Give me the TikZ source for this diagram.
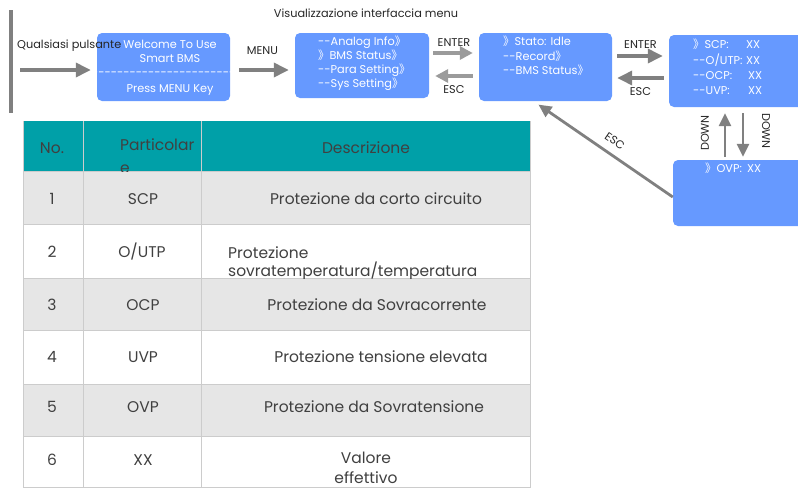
\documentclass[tikz,border=0pt]{standalone}
\usepackage{fontspec}
\setmainfont{Poppins}
\newfontfamily\cjk{Noto Sans CJK SC}
\usetikzlibrary{arrows.meta,positioning}
\definecolor{screenblue}{RGB}{102,153,255}
\definecolor{headteal}{RGB}{0,160,168}
\definecolor{arrowgray}{RGB}{128,128,128}
\definecolor{lightgray}{RGB}{155,155,155}
\definecolor{rowgray}{RGB}{230,230,230}
\definecolor{gridgray}{RGB}{204,204,204}
\definecolor{textgray}{RGB}{64,64,64}
\newcommand{\dbr}{{\cjk 》}}
\newcommand{\dd}{-{}-}
\tikzset{
  screen/.style={fill=screenblue,rounded corners=5pt,inner sep=0pt},
  screentext/.style={text=white,font=\fontsize{11.3}{14}\selectfont,align=left,inner sep=0pt},
  flow/.style={draw=arrowgray,line width=3.5pt,-{Triangle[length=15pt,width=14pt]}},
  flowlight/.style={draw=lightgray,line width=3.5pt,-{Triangle[length=13pt,width=13pt]}},
  flowthin/.style={draw=arrowgray,line width=2.8pt,-{Triangle[length=13pt,width=12pt]}},
  keylabel/.style={text=black!85,font=\fontsize{11.3}{13}\selectfont,inner sep=0pt},
  celltext/.style={text=textgray,font=\fontsize{15.5}{20}\selectfont,inner sep=0pt}
}
\begin{document}
\begin{tikzpicture}[x=1pt,y=-1pt]
  \useasboundingbox (0,0) rectangle (798,488);
  % menu flow
  \node[keylabel] (title) at (366,13) {Visualizzazione interfaccia menu};
  \fill[arrowgray] (8.5,10) rectangle (12.5,113);
  \node[screen,minimum width=133pt,minimum height=68pt] (welcome) at (163.5,67) {};
  \node[screentext,align=center,anchor=north] (welcometext) at (170,40)
    {Welcome To Use\\Smart BMS\\-{}-{}-{}-{}-{}-{}-{}-{}-{}-{}-{}-{}-{}-{}-{}-{}-{}-{}-{}-{}-{}-{}-{}-{}-\\[2pt]Press MENU Key};
  \node[screen,minimum width=134pt,minimum height=65pt] (menu) at (362,65.5) {};
  \node[screentext,anchor=north west] (menutext) at (318,36)
    {\dd Analog Info\dbr\\\dbr BMS Status\dbr\\\dd Para Setting\dbr\\\dd Sys Setting\dbr};
  \node[screen,minimum width=133pt,minimum height=68pt] (status) at (545.5,67) {};
  \node[screentext,anchor=north west,font=\fontsize{11.3}{14.5}\selectfont] (statustext) at (503,36)
    {\dbr Stato: Idle\\\dd Record\dbr\\\dd BMS Status\dbr};
  \node[screen,minimum width=140pt,minimum height=72pt] (prot) at (739,71) {};
  \node[screentext,anchor=north west,font=\fontsize{11.3}{15.3}\selectfont] (prottext) at (693,39)
    {\makebox[53pt][l]{\dbr SCP:}XX\\\makebox[53pt][l]{\dd O/UTP:}XX\\
     \makebox[55pt][l]{\dd OCP:}XX\\\makebox[55pt][l]{\dd UVP:}XX};
  \node[screen,minimum width=136pt,minimum height=66pt] (ovp) at (741,193) {};
  \node[screentext,anchor=north west] (ovptext) at (705,163)
    {\makebox[42pt][l]{\dbr OVP:}XX};
  \coordinate (anykey) at (20,70);
  \node[keylabel,anchor=west] (anykeylabel) at (17,46) {Qualsiasi pulsante};
  \draw[flow,shorten >=6pt] (anykey) -- (welcome.west |- anykey);
  \draw[flow,shorten <=9pt,shorten >=6pt] ([yshift=-3pt]welcome.east) -- ([yshift=-3pt]welcome.east -| menu.west)
    node[keylabel,midway,above=14pt] (menulabel) {MENU};
  \draw[flowlight,shorten <=4pt,shorten >=6pt] ([yshift=12.5pt]menu.east) -- ([yshift=12.5pt]menu.east -| status.west)
    node[keylabel,midway,above=5pt] (enterone) {ENTER};
  \draw[flowlight,shorten <=6pt,shorten >=6pt] ([yshift=-10.5pt]menu.east -| status.west) -- ([yshift=-10.5pt]menu.east)
    node[keylabel,midway,below=8pt] (escone) {ESC};
  \draw[flow,shorten <=5pt,shorten >=6pt] ([yshift=11pt]status.east) -- ([yshift=11pt]status.east -| prot.west)
    node[keylabel,midway,above=6pt] (entertwo) {ENTER};
  \draw[flow,shorten <=5pt,shorten >=5pt] ([yshift=-11pt]status.east -| prot.west) -- ([yshift=-11pt]status.east)
    node[keylabel,midway,below=8pt] (esctwo) {ESC};
  \draw[flowthin,shorten <=3pt,shorten >=6pt] ([xshift=-16pt]ovp.north) -- ([xshift=-16pt]ovp.north |- prot.south);
  \draw[flowthin,shorten <=6pt,shorten >=3pt] ([xshift=2pt]ovp.north |- prot.south) -- ([xshift=2pt]ovp.north);
  \node[keylabel,rotate=90] (downup) at (705,133) {DOWN};
  \node[keylabel,rotate=-90] (downdown) at (766,131) {DOWN};
  \draw[flowthin,shorten >=6pt] ([yshift=-4pt]ovp.west) -- ([xshift=-12pt]status.south)
    node[keylabel,pos=0.47,sloped,above=8pt] (escthree) {ESC};
  % table
  \fill[headteal] (23,121) rectangle (530,171);
  \foreach \top/\bottom/\shade in {171/224/rowgray,224/278/white,278/330/rowgray,330/384/white,384/436/rowgray,436/488/white}
    \fill[\shade] (23,\top) rectangle (530,\bottom);
  \foreach \rowline in {171,224,278,330,384,436,487}
    \draw[gridgray,line width=1pt] (23,\rowline) -- (530,\rowline);
  \foreach \colline in {23,83,201,530}
    \draw[gridgray,line width=1pt] (\colline,121) -- (\colline,488);
  \node[celltext] (headno) at (52,148) {No.};
  \begin{scope}
    \clip (83,121) rectangle (201,171);
    \node[celltext,anchor=north west,align=left] (headpart) at (120,139) {Particolar\\[2pt]e};
  \end{scope}
  \node[celltext] (headdesc) at (366,148) {Descrizione};
  \foreach \no/\code/\descx/\desc/\rowy in {1/SCP/376/Protezione da corto circuito/199,
      3/OCP/377/Protezione da Sovracorrente/305,4/UVP/381/Protezione tensione elevata/357,
      5/OVP/374/Protezione da Sovratensione/407}{
    \node[celltext] (no\no) at (52,\rowy) {\no};
    \node[celltext] (code\no) at (143,\rowy) {\code};
    \node[celltext] (desc\no) at (\descx,\rowy) {\desc};
  }
  \node[celltext] (no2) at (52,252) {2};
  \node[celltext] (code2) at (142,252) {O/UTP};
  \begin{scope}
    \clip (201,224) rectangle (530,278);
    \node[celltext,anchor=north west,align=left,font=\fontsize{15.5}{18}\selectfont] (desc2) at (228,246) {Protezione\\sovratemperatura/temperatura};
  \end{scope}
  \node[celltext] (no6) at (52,460) {6};
  \node[celltext] (code6) at (143,460) {XX};
  \begin{scope}
    \clip (201,436) rectangle (530,487);
    \node[celltext,anchor=north,align=center] (desc6) at (366,452) {Valore\\effettivo};
  \end{scope}
\end{tikzpicture}
\end{document}
